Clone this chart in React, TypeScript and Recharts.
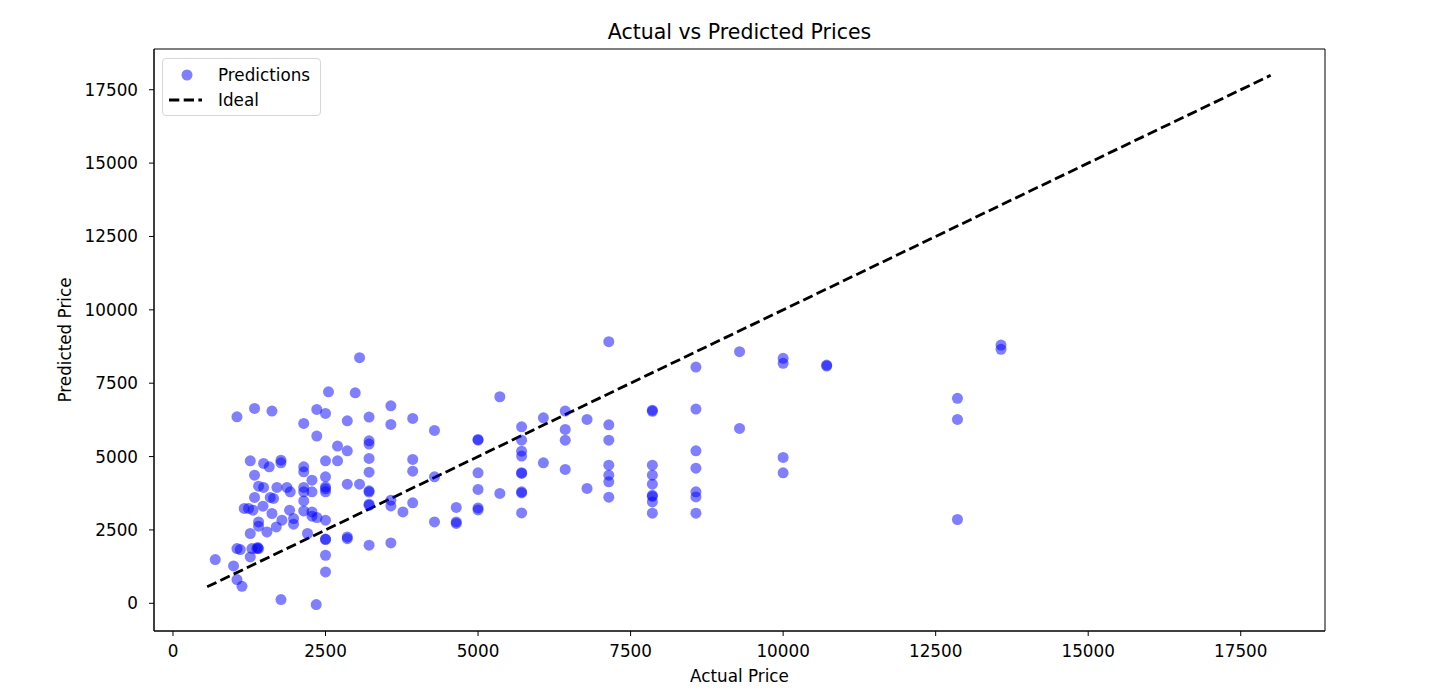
import React from 'react';
import { ScatterChart, Scatter, XAxis, YAxis, ReferenceLine, ReferenceArea } from 'recharts';

// actual vs predicted (same order in both arrays)
const actualPrices = [
  1049, 1337, 1622, 2143, 2357, 2500, 2549, 2357, 1267, 1485,
  1578, 1770, 1770, 2143, 2143, 2500, 1337, 1403, 1485, 1704,
  1868, 1922, 2143, 2143, 2278, 2278, 2500, 2500, 2500, 2500,
  1337, 1594, 1648, 1475, 1239, 1168, 1311, 1622, 1786, 1911,
  2143, 2143, 1976, 1976, 2278, 2278, 2359, 2500, 2500, 2500,
  1403, 1403, 1267, 1540, 1693, 2205, 1376, 1403, 1390, 1049,
  1103, 1294, 1267, 693, 993, 1049, 1131, 1770, 2348, 2500,
  2500,
  3058, 2987, 3571, 2857, 3214, 3571, 3929, 4286, 2697, 2857,
  3214, 3214, 2697, 3214, 3214, 3929, 3929, 2857, 3058, 3214,
  3214, 3214, 3214, 3571, 3571, 3769, 3929, 4286, 4286, 4643,
  4643, 4643, 2857, 2857, 3214, 3571,
  5357, 6071, 6429, 6786, 7143, 7143, 5714, 5714, 5714, 5714,
  5714, 5714, 5714, 5714, 5714, 5000, 5000, 5000, 5000, 5000,
  5000, 5357, 6071, 6429, 6786, 7143, 7143, 7143, 7143, 6429,
  6429, 7143,
  7857, 7857, 7857, 7857, 7857, 7857, 7857, 7857, 7857,
  8571, 8571, 8571, 8571, 8571, 8571, 8571,
  9286, 9286, 10000, 10000, 10000, 10000, 10714, 10714,
  12857, 12857, 12857, 13571, 13571,
];

const predictedPrices = [
  6355, 6642, 6550, 6130, 6608, 6471, 7208, 5697, 4854, 4766,
  4650, 4878, 4786, 4650, 4479, 4854, 4367, 3991, 3947, 3947,
  3947, 3797, 3947, 3797, 4196, 3797, 4309, 3967, 3797, 3900,
  3606, 3606, 3572, 3309, 3231, 3231, 3173, 3060, 2831, 3173,
  3490, 3149, 2889, 2695, 3115, 2968, 2924, 2831, 2173, 2190,
  2773, 2627, 2378, 2432, 2603, 2378, 1866, 1866, 1900, 1866,
  1832, 1866, 1579, 1491, 1272, 808, 580, 126, -44, 1637,
  1068,
  8368, 7174, 6731, 6219, 6345, 6096, 6301, 5891, 5356, 5195,
  5537, 5424, 4854, 4936, 4469, 4902, 4503, 4060, 4060, 3831,
  3790, 3377, 3340, 3514, 3319, 3115, 3422, 4309, 2773, 3265,
  2773, 2720, 2262, 2200, 1979, 2057,
  7038, 6321, 6550, 6267, 6083, 5560, 6014, 5560, 5185, 5015,
  4424, 4450, 3797, 3760, 3080, 5584, 5560, 4445, 3879, 3251,
  3180, 3742, 4786, 4561, 3913, 4708, 4367, 4138, 3616, 5925,
  5560, 8914,
  6580, 6540, 4708, 4367, 4060, 3680, 3640, 3456, 3070,
  8051, 6618, 5195, 4605, 3797, 3626, 3070,
  8573, 5960, 8348, 8177, 4970, 4445, 8119, 8085,
  6983, 6267, 2855, 8801, 8655,
];

const idealRange = [560, 17990];
const xTicks = [0, 2500, 5000, 7500, 10000, 12500, 15000, 17500];
const yTicks = [0, 2500, 5000, 7500, 10000, 12500, 15000, 17500];
const xDomain = [-311, 18881];
const yDomain = [-944, 18888];

const points = actualPrices.map((x, i) => ({ x, y: predictedPrices[i] }));

const font = '"DejaVu Sans", sans-serif';
const fs = 16.8;
const tickStyle = { fill: '#000', fontSize: fs, fontFamily: font };

const Dot = (props: any) => (
  <circle cx={props.cx} cy={props.cy} r={5.5} fill="#0000ff" fillOpacity={0.5} />
);

const YLabel = (props: any) => {
  const vb = props.viewBox;
  const cx = vb.x + 1;
  const cy = vb.y + vb.height / 2;
  return (
    <text
      x={cx}
      y={cy}
      transform={`rotate(-90 ${cx} ${cy})`}
      textAnchor="middle"
      dominantBaseline="central"
      fontSize={fs}
      fontFamily={font}
      fill="#000"
    >
      Predicted Price
    </text>
  );
};

const App: React.FC = () => {
  return (
    <div
      style={{
        position: 'absolute',
        left: 0,
        top: 0,
        width: 1429,
        height: 693,
        background: '#fff',
        fontFamily: font,
      }}
    >
      <div
        style={{
          position: 'absolute',
          left: 154,
          width: 1171,
          top: 19,
          lineHeight: '26px',
          textAlign: 'center',
          fontSize: 20.5,
          color: '#000',
        }}
      >
        Actual vs Predicted Prices
      </div>

      <ScatterChart width={1429} height={693} margin={{ top: 49, right: 104, bottom: 11, left: 64 }}>
        <XAxis
          dataKey="x"
          type="number"
          domain={xDomain}
          allowDataOverflow
          ticks={xTicks}
          interval={0}
          height={51}
          tick={tickStyle}
          tickSize={5}
          tickMargin={9}
          tickLine={{ stroke: '#000' }}
          axisLine={{ stroke: '#000' }}
          label={{ value: 'Actual Price', position: 'insideBottom', offset: 0, fill: '#000', fontSize: fs, fontFamily: font }}
        />
        <YAxis
          dataKey="y"
          type="number"
          domain={yDomain}
          allowDataOverflow
          ticks={yTicks}
          interval={0}
          width={90}
          tick={tickStyle}
          tickSize={5}
          tickMargin={11}
          tickLine={{ stroke: '#000' }}
          axisLine={{ stroke: '#000' }}
          label={{ content: <YLabel /> }}
        />
        {/* full axes frame */}
        <ReferenceArea
          x1={xDomain[0]}
          x2={xDomain[1]}
          y1={yDomain[0]}
          y2={yDomain[1]}
          fill="none"
          fillOpacity={0}
          stroke="#000"
          strokeWidth={1}
          ifOverflow="visible"
        />
        <Scatter name="Predictions" data={points} shape={<Dot />} isAnimationActive={false} />
        <ReferenceLine
          segment={[
            { x: idealRange[0], y: idealRange[0] },
            { x: idealRange[1], y: idealRange[1] },
          ]}
          stroke="#000"
          strokeWidth={2.8}
          strokeDasharray="10.3 4.4"
        />
      </ScatterChart>

      {/* legend box, upper left like matplotlib's 'best' placement */}
      <div
        style={{
          position: 'absolute',
          left: 162,
          top: 58,
          width: 157,
          height: 56,
          border: '1px solid #d6d6d6',
          borderRadius: 4,
          background: 'rgba(255,255,255,0.8)',
          color: '#000',
        }}
      >
        <svg width={157} height={56} style={{ position: 'absolute', left: 0, top: 0 }}>
          <circle cx={24} cy={16} r={5.5} fill="#0000ff" fillOpacity={0.5} />
          <line x1={6} y1={41} x2={39} y2={41} stroke="#000" strokeWidth={2.8} strokeDasharray="10.3 4.4" />
          <text x={55} y={16} dominantBaseline="central" fontSize={fs} fontFamily={font}>Predictions</text>
          <text x={55} y={41} dominantBaseline="central" fontSize={fs} fontFamily={font}>Ideal</text>
        </svg>
      </div>
    </div>
  );
};

export default App;
